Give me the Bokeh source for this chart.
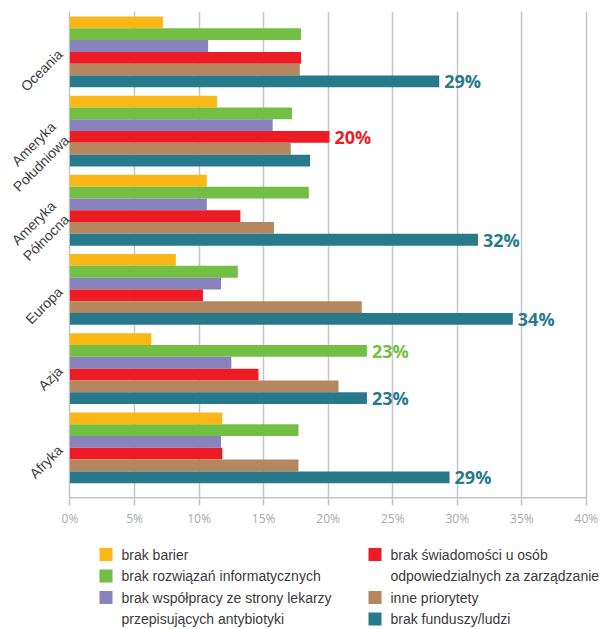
import math
from bokeh.plotting import figure
from bokeh.models import ColumnDataSource, FixedTicker, PrintfTickFormatter, Range1d
from bokeh.layouts import column
from bokeh.embed import file_html
from bokeh.resources import INLINE
from bokeh.core.properties import value

# ---------------- data ----------------
REGIONS = ["Oceania", "Ameryka\nPołudniowa", "Ameryka\nPółnocna", "Europa", "Azja", "Afryka"]  # top -> bottom

SERIES = [
    "brak barier",
    "brak rozwiązań informatycznych",
    "brak współpracy ze strony lekarzy\nprzepisujących antybiotyki",
    "brak świadomości u osób\nodpowiedzialnych za zarządzanie",
    "inne priorytety",
    "brak funduszy/ludzi",
]
COLORS = ["#FBB716", "#72BF44", "#8882BD", "#ED1C24", "#B5875E", "#277A8B"]

brak_barier = [7.2, 11.4, 10.6, 8.2, 6.3, 11.8]
brak_rozwiazan = [17.9, 17.2, 18.5, 13.0, 23.0, 17.7]
brak_wspolpracy = [10.7, 15.7, 10.6, 11.7, 12.5, 11.7]
brak_swiadomosci = [17.9, 20.1, 13.2, 10.3, 14.6, 11.8]
inne_priorytety = [17.8, 17.1, 15.8, 22.6, 20.8, 17.7]
brak_funduszy = [28.6, 18.6, 31.6, 34.3, 23.0, 29.4]
VALUES = [brak_barier, brak_rozwiazan, brak_wspolpracy, brak_swiadomosci, inne_priorytety, brak_funduszy]

# annotated bars: (region, series index)
LABEL_REGIONS = ["Oceania", "Ameryka\nPołudniowa", "Ameryka\nPółnocna", "Europa", "Azja", "Azja", "Afryka"]
LABEL_SERIES = [5, 3, 5, 5, 1, 5, 5]

X_TICKS = [0, 5, 10, 15, 20, 25, 30, 35, 40]

# ---------------- main chart ----------------
BAR_H = 0.149
n = len(REGIONS)
ypos = {r: (n - 1 - i) for i, r in enumerate(REGIONS)}

W = 604
p = figure(width=W, height=530, x_range=Range1d(-5.38, 41.4), y_range=Range1d(-0.64, 5.51),
           output_backend="svg", toolbar_location=None, y_axis_location=None,
           min_border_left=0, min_border_right=0, min_border_top=11, min_border_bottom=32)
p.outline_line_color = None

for j, (vals, col) in enumerate(zip(VALUES, COLORS)):
    off = (2.5 - j) * BAR_H
    src = ColumnDataSource(dict(y=[ypos[r] + off for r in REGIONS], right=vals))
    p.hbar(y="y", left=0, right="right", height=BAR_H, color=col, line_color=None, source=src)

lx, ly, lt, lc = [], [], [], []
for r, s in zip(LABEL_REGIONS, LABEL_SERIES):
    v = VALUES[s][REGIONS.index(r)]
    lx.append(v)
    ly.append(ypos[r] + (2.5 - s) * BAR_H)
    lt.append(f"{round(v)}%")
    lc.append(COLORS[s])
p.text(x="x", y="y", text="text", text_color="color",
       source=ColumnDataSource(dict(x=lx, y=ly, text=lt, color=lc)),
       text_font=value("Open Sans"), text_font_style="bold", text_font_size="18px",
       text_baseline="middle", text_align="left", x_offset=5)

# category names, rotated, left of the value axis origin
p.text(x=[0] * n, y=[ypos[r] for r in REGIONS], text=REGIONS, angle=math.pi / 4,
       x_offset=-10, text_align="right", text_baseline="middle",
       text_font=value("Liberation Sans"), text_font_size="14px", text_color="#3d3d3d",
       text_line_height=1.2)

# x axis (line only from first to last tick)
p.xaxis.ticker = FixedTicker(ticks=X_TICKS)
p.xaxis.formatter = PrintfTickFormatter(format="%d%%")
p.xaxis.axis_line_color = None
p.xaxis.major_tick_line_color = "#c4c4c4"
p.xaxis.major_tick_line_width = 1.5
p.xaxis.major_tick_in = 0
p.xaxis.major_tick_out = 7
p.xaxis.minor_tick_line_color = None
p.xaxis.major_label_standoff = 4
p.xaxis.major_label_text_font = "Open Sans"
p.xaxis.major_label_text_font_size = "12px"
p.xaxis.major_label_text_color = "#a8a8a8"
p.segment(x0=[X_TICKS[0]], x1=[X_TICKS[-1]], y0=[p.y_range.start], y1=[p.y_range.start],
          line_color="#c4c4c4", line_width=3)

p.xgrid.grid_line_color = "#c4c4c4"
p.xgrid.grid_line_width = 1.5
p.ygrid.grid_line_color = None

# ---------------- legend ----------------
LH = 99
q = figure(width=W, height=LH, x_range=Range1d(0, W), y_range=Range1d(LH, 0),
           output_backend="svg", toolbar_location=None, min_border=0,
           x_axis_type=None, y_axis_type=None)
q.outline_line_color = None
q.grid.visible = False

ROW_Y = [24, 45.5, 67, 88.5]
COL_SQ_X = [105.5, 374.5]
COL_TX_X = [121, 390]
sq_x, sq_y, sq_c, tx_x, tx_y, tx_t = [], [], [], [], [], []
for c in range(2):
    line = 0
    for s in range(3 * c, 3 * c + 3):
        sq_x.append(COL_SQ_X[c]); sq_y.append(ROW_Y[line]); sq_c.append(COLORS[s])
        for part in SERIES[s].split("\n"):
            tx_x.append(COL_TX_X[c]); tx_y.append(ROW_Y[line]); tx_t.append(part)
            line += 1
q.rect(x="x", y="y", width=13, height=13, color="c", line_color=None,
       source=ColumnDataSource(dict(x=sq_x, y=sq_y, c=sq_c)))
q.text(x="x", y="y", text="t", source=ColumnDataSource(dict(x=tx_x, y=tx_y, t=tx_t)),
       text_font=value("Liberation Sans"), text_font_size="14px", text_color="#3a3a3a",
       text_baseline="middle", text_align="left")

layout = column(p, q)
open("out.html", "w").write(file_html(layout, INLINE))
